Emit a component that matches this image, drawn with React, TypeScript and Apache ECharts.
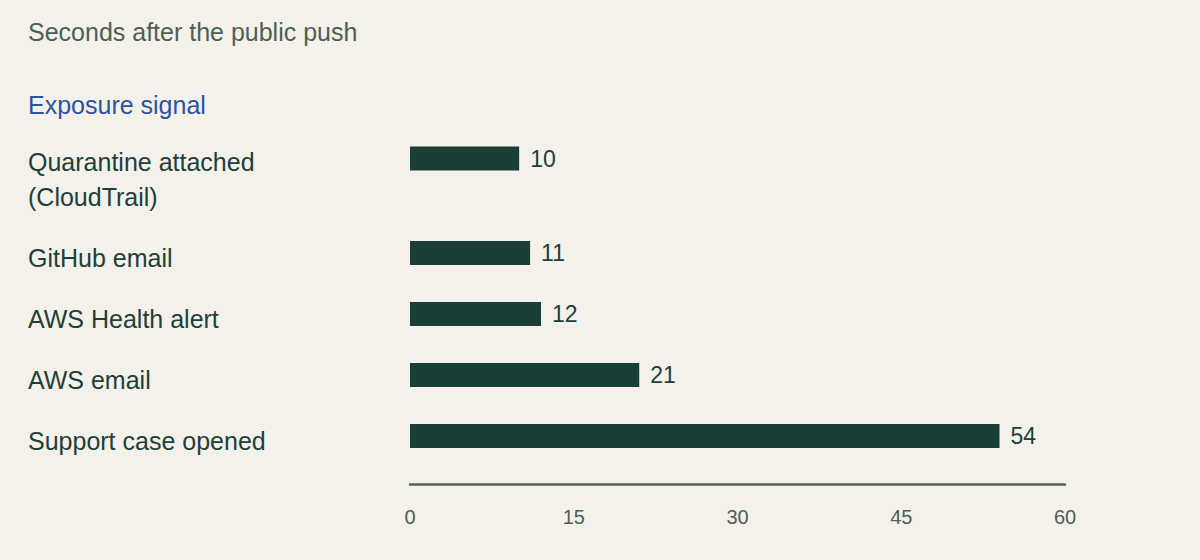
import React, { useEffect, useRef } from "react";
import * as echarts from "echarts";

const titleText = "Seconds after the public push";
const axisTitle = "Exposure signal";
const topCategories = ["Quarantine attached\n(CloudTrail)"];
const topValues = [10];
const categories = ["GitHub email", "AWS Health alert", "AWS email", "Support case opened"];
const values = [11, 12, 21, 54];
const xMin = 0;
const xMax = 60;
const xInterval = 15;

const BG = "#f4f1ea";
const BAR = "#1a3e36";
const TEXT = "#1d4038";
const MUTED = "#4d5f53";
const BLUE = "#2a54a0";
const FONT = "'Liberation Sans', Arial, Helvetica, sans-serif";

export default function App() {
  const ref = useRef<HTMLDivElement>(null);
  useEffect(() => {
    if (!ref.current) return;
    const chart = echarts.init(ref.current, undefined, { renderer: "svg" });
    const valueLabel = {
      show: true,
      position: "right" as const,
      distance: 11,
      fontSize: 23,
      color: TEXT,
      fontFamily: FONT,
    };
    chart.setOption({
      animation: false,
      backgroundColor: BG,
      textStyle: { fontFamily: FONT },
      title: [
        {
          text: titleText,
          left: 28,
          top: 19,
          padding: 0,
          textStyle: { fontSize: 25, fontWeight: "normal", color: MUTED, fontFamily: FONT },
        },
        {
          text: axisTitle,
          left: 28,
          top: 92,
          padding: 0,
          textStyle: { fontSize: 25, fontWeight: "normal", color: BLUE, fontFamily: FONT },
        },
      ],
      grid: [
        { left: 410, width: 655, top: 128, height: 61, containLabel: false },
        { left: 410, width: 655, top: 222.5, height: 244, containLabel: false },
      ],
      xAxis: [
        {
          gridIndex: 0,
          type: "value",
          min: xMin,
          max: xMax,
          interval: xInterval,
          show: false,
        },
        {
          gridIndex: 1,
          type: "value",
          min: xMin,
          max: xMax,
          interval: xInterval,
          offset: 18,
          axisLine: { show: true, lineStyle: { color: "#4f6152", width: 2.5 } },
          axisTick: { show: false },
          splitLine: { show: false },
          axisLabel: { fontSize: 20, color: MUTED, margin: 22, fontFamily: FONT },
        },
      ],
      yAxis: [
        {
          gridIndex: 0,
          type: "category",
          inverse: true,
          data: topCategories,
          axisLine: { show: false },
          axisTick: { show: false },
          axisLabel: {
            align: "left",
            verticalAlign: "top",
            margin: 382,
            formatter: (v: string) =>
              v
                .split("\n")
                .map((s, i) => `{${i === 0 ? "a" : "b"}|${s}}`)
                .join("\n"),
            rich: {
              a: { fontSize: 25, lineHeight: 7, color: TEXT, fontFamily: FONT },
              b: { fontSize: 25, lineHeight: 63, color: TEXT, fontFamily: FONT },
            },
          },
        },
        {
          gridIndex: 1,
          type: "category",
          inverse: true,
          data: categories,
          axisLine: { show: false },
          axisTick: { show: false },
          axisLabel: {
            align: "left",
            verticalAlign: "top",
            margin: 382,
            fontSize: 25,
            lineHeight: 9,
            color: TEXT,
            fontFamily: FONT,
          },
        },
      ],
      series: [
        {
          type: "bar",
          xAxisIndex: 0,
          yAxisIndex: 0,
          data: topValues,
          barWidth: 24,
          itemStyle: { color: BAR },
          label: valueLabel,
        },
        {
          type: "bar",
          xAxisIndex: 1,
          yAxisIndex: 1,
          data: values,
          barWidth: 24,
          itemStyle: { color: BAR },
          label: valueLabel,
        },
      ],
    });
    return () => chart.dispose();
  }, []);
  return (
    <div
      ref={ref}
      style={{ position: "fixed", left: 0, top: 0, width: 1200, height: 560 }}
    />
  );
}
